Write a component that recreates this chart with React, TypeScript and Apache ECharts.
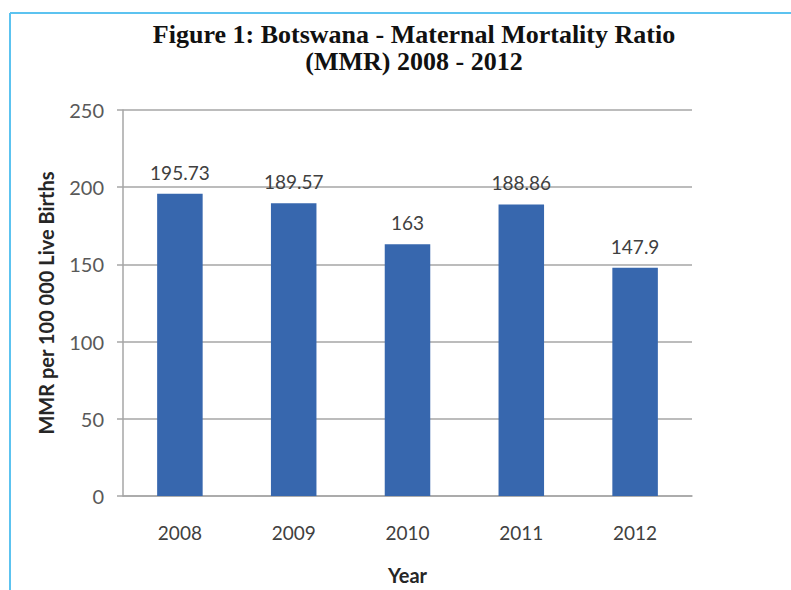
import React, { useEffect, useRef } from "react";
import * as echarts from "echarts";

const categories = ["2008", "2009", "2010", "2011", "2012"];
const values = [195.73, 189.57, 163, 188.86, 147.9];
const valueLabels = ["195.73", "189.57", "163", "188.86", "147.9"];
const titleLines = ["Figure 1: Botswana - Maternal Mortality Ratio", "(MMR) 2008 - 2012"];
const yAxisName = "MMR per 100 000 Live Births";
const xAxisName = "Year";

export default function App() {
  const ref = useRef<HTMLDivElement>(null);
  useEffect(() => {
    if (!ref.current) return;
    const chart = echarts.init(ref.current, null, { renderer: "svg" });
    const sansFont = "Lato, 'Open Sans', sans-serif";
    chart.setOption({
      animation: false,
      backgroundColor: "#ffffff",
      title: {
        text: titleLines.join("\n"),
        left: 409,
        top: 16,
        textAlign: "center",
        textStyle: {
          fontFamily: "'Liberation Serif', 'Times New Roman', serif",
          fontWeight: "bold",
          fontSize: 26,
          lineHeight: 27,
          color: "#111111",
        },
      },
      graphic: [
        {
          type: "line",
          shape: { x1: 10, y1: 13, x2: 10, y2: 590 },
          style: { stroke: "#5cc3f0", lineWidth: 2 },
        },
        {
          type: "line",
          shape: { x1: 10, y1: 13, x2: 791, y2: 13 },
          style: { stroke: "#5cc3f0", lineWidth: 2 },
        },
      ],
      grid: { left: 123, top: 110, right: 99, bottom: 91, containLabel: false },
      xAxis: {
        type: "category",
        data: categories,
        name: xAxisName,
        nameLocation: "middle",
        nameGap: 69,
        nameTextStyle: { fontFamily: sansFont, fontWeight: "bold", fontSize: 20, color: "#262626" },
        axisLine: { show: true, lineStyle: { color: "#a6a6a6", width: 1.5 } },
        axisTick: { show: false },
        axisLabel: { fontFamily: sansFont, fontSize: 19, color: "#404040", margin: 27 },
      },
      yAxis: {
        type: "value",
        min: 0,
        max: 250,
        interval: 50,
        name: yAxisName,
        nameLocation: "middle",
        nameGap: 67,
        nameTextStyle: { fontFamily: sansFont, fontWeight: "bold", fontSize: 20, color: "#262626" },
        axisLine: { show: true, lineStyle: { color: "#a6a6a6", width: 1.5 } },
        axisTick: { show: true, length: 6, lineStyle: { color: "#a6a6a6", width: 1.5 } },
        axisLabel: { fontFamily: sansFont, fontSize: 20, color: "#595959", margin: 19 },
        splitLine: { show: true, lineStyle: { color: "#a6a6a6", width: 1.5 } },
      },
      series: [
        {
          type: "bar",
          data: values,
          barWidth: "40%",
          itemStyle: { color: "#3767ae" },
          label: {
            show: true,
            position: "top",
            distance: 12,
            fontFamily: sansFont,
            fontSize: 19,
            color: "#404040",
            formatter: (p: any) => valueLabels[p.dataIndex],
          },
        },
      ],
    });
    return () => chart.dispose();
  }, []);
  return (
    <div
      ref={ref}
      style={{ position: "fixed", left: 0, top: 0, width: 791, height: 590 }}
    />
  );
}
